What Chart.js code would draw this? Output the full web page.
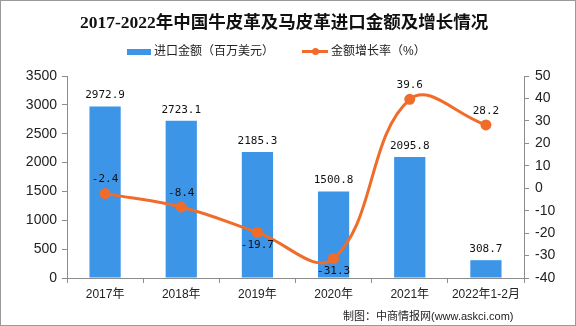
<!DOCTYPE html>
<html>
<head>
<meta charset="utf-8">
<script src="https://cdn.jsdelivr.net/npm/chart.js@4"></script>
<style>
  body { margin: 0; background: #fff; }
  #wrap { position: relative; width: 576px; height: 326px; box-sizing: border-box; border: 1px solid #9a9a9a; overflow: hidden; }
  #chart { position: absolute; left: -1px; top: -1px; }
  .title { position: absolute; left: 79px; top: 7px; white-space: nowrap;
    font: bold 17.5px "Liberation Serif", "Noto Sans CJK SC", serif; color: #111; }
  .legend { position: absolute; top: 40px; font: 12px "Liberation Sans", "Noto Sans CJK SC", sans-serif; color: #222; white-space: nowrap; }
  .legend span.sw { display: inline-block; vertical-align: middle; }
  .foot { position: absolute; left: 342px; top: 306px; white-space: nowrap;
    font: 11px "Liberation Sans", "Noto Sans CJK SC", sans-serif; color: #222; }
</style>
</head>
<body>
<div id="wrap">
  <canvas id="chart" width="576" height="326"></canvas>
  <div class="title">2017-2022年中国牛皮革及马皮革进口金额及增长情况</div>
  <div class="legend" style="left:126px;">
    <span class="sw" style="width:24px;height:6px;background:#3d95e8;margin-right:3px;"></span>进口金额（百万美元）
  </div>
  <div class="legend" style="left:301px;">
    <span class="sw" style="position:relative;width:26px;height:3px;background:#ef6c2a;margin-right:3px;">
      <span style="position:absolute;left:10px;top:-2px;width:7px;height:7px;border-radius:50%;background:#ef6c2a;"></span>
    </span>金额增长率（%）
  </div>
  <div class="foot">制图：中商情报网(www.askci.com)</div>
</div>
<script>
const categories = ["2017年", "2018年", "2019年", "2020年", "2021年", "2022年1-2月"];
const importValues = [2972.9, 2723.1, 2185.3, 1500.8, 2095.8, 308.7];
const growthRates = [-2.4, -8.4, -19.7, -31.3, 39.6, 28.2];

const barColor = "#3d95e8";
const lineColor = "#ef6c2a";
const axisColor = "#8c8c8c";
const labelFont = '11px "DejaVu Sans Mono", monospace';

const valueLabels = {
  id: "valueLabels",
  afterDatasetsDraw(chart) {
    const ctx = chart.ctx;
    ctx.save();
    ctx.font = labelFont;
    ctx.fillStyle = "#111";
    ctx.textAlign = "center";
    ctx.textBaseline = "middle";
    chart.getDatasetMeta(0).data.forEach((bar, i) => {
      ctx.fillText(importValues[i].toFixed(1), bar.x, bar.y - 11);
    });
    chart.getDatasetMeta(1).data.forEach((pt, i) => {
      const v = growthRates[i];
      const dy = v < -15 ? 13 : -14;
      ctx.fillText(v.toFixed(1), pt.x, pt.y + dy);
    });
    ctx.restore();
  }
};

new Chart(document.getElementById("chart"), {
  type: "bar",
  data: {
    labels: categories,
    datasets: [
      {
        type: "bar",
        label: "进口金额（百万美元）",
        data: importValues,
        backgroundColor: barColor,
        yAxisID: "y",
        barPercentage: 0.82,
        categoryPercentage: 0.5,
        order: 1
      },
      {
        type: "line",
        label: "金额增长率（%）",
        data: growthRates,
        borderColor: lineColor,
        backgroundColor: lineColor,
        borderWidth: 3,
        pointRadius: 4,
        pointHoverRadius: 4,
        tension: 0.4,
        yAxisID: "y1",
        order: 0
      }
    ]
  },
  options: {
    responsive: false,
    animation: false,
    layout: { padding: { top: 76, bottom: 24, left: 0, right: 0 } },
    plugins: {
      legend: { display: false },
      title: { display: false },
      tooltip: { enabled: false }
    },
    scales: {
      x: {
        grid: { drawOnChartArea: false, tickLength: 5, color: axisColor },
        border: { color: axisColor },
        ticks: { color: "#222", padding: 4, font: { family: '"Liberation Sans", "Noto Sans CJK SC"', size: 12 } },
        afterFit: (s) => { s.height = 24; }
      },
      y: {
        position: "left",
        min: 0,
        max: 3500,
        ticks: { stepSize: 500, color: "#222", padding: 5, font: { family: '"Liberation Sans"', size: 14 },
          callback: (v) => String(v) },
        grid: { drawOnChartArea: false, tickLength: 5, color: axisColor },
        border: { color: axisColor },
        afterFit: (s) => { s.width = 67; }
      },
      y1: {
        position: "right",
        min: -40,
        max: 50,
        ticks: { stepSize: 10, color: "#222", padding: 6, font: { family: '"Liberation Sans"', size: 14 },
          callback: (v) => String(v) },
        grid: { drawOnChartArea: false, tickLength: 5, color: axisColor },
        border: { color: axisColor },
        afterFit: (s) => { s.width = 52; }
      }
    }
  },
  plugins: [valueLabels]
});
</script>
</body>
</html>
